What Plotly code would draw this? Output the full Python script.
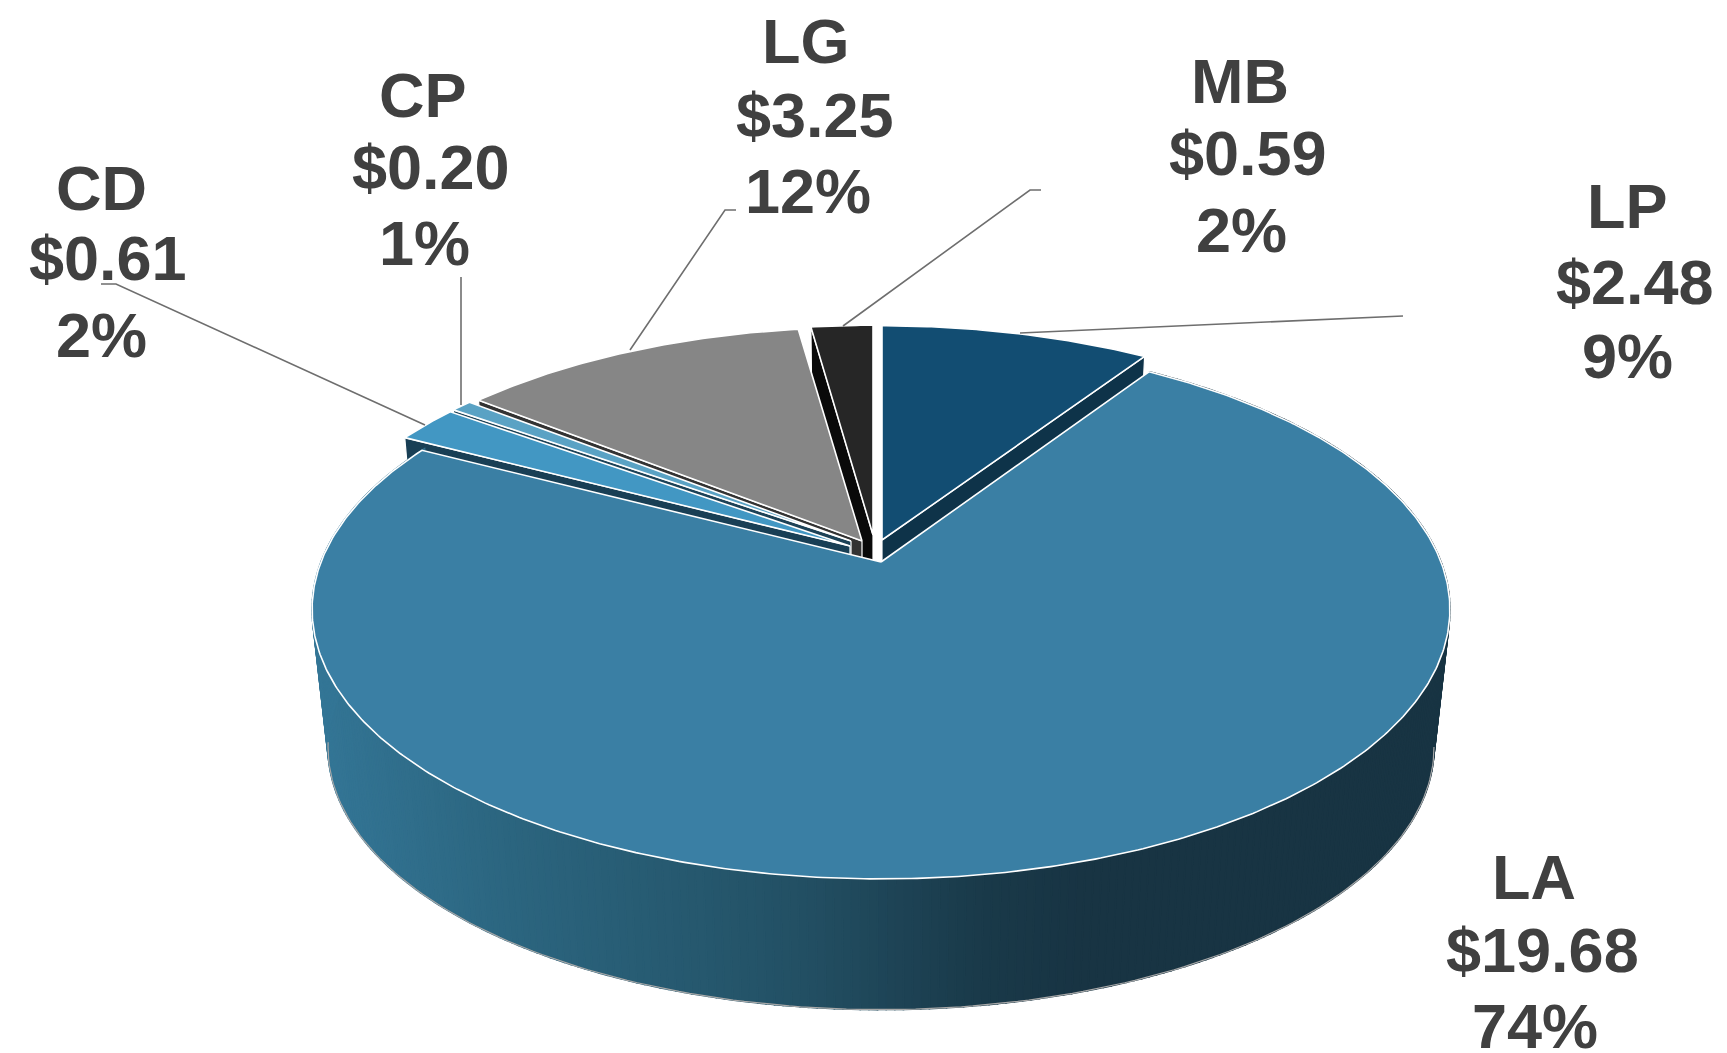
import numpy as np
import plotly.graph_objects as go

# ---- data ----
labels = ["LP", "LA", "CD", "CP", "LG", "MB"]
values = [2.48, 19.68, 0.61, 0.20, 3.25, 0.59]
percents = ["9%", "74%", "2%", "1%", "12%", "2%"]

# ---- styles ----
top_colors = ["#124d72", "#3a7fa4", "#4297c3", "#5aa2c4", "#868686", "#262626"]
side_colors = ["#0e3349", "#183444", "#193f55", "#1d4257", "#333333", "#0a0a0a"]
# per-slice apex position on the page and radius factors (explosion of the pie)
apex_x = [882, 881, 850, 851, 862, 873]
apex_y = [540, 562, 546, 541, 541, 535]
radius_x = [0.98, 1.0, 0.97, 0.965, 0.97, 0.945]
radius_y = [0.965, 1.0, 0.97, 0.948, 0.962, 0.945]

A, D, K = 560.0, 261.1, 0.1762   # perspective ellipse parameters
DEPTH, Q = 139.5, 0.972          # extrusion depth and far-plane scale
TEXT = "#404040"

label_x = {"LP": (1627, 1635, 1627), "LA": (1534, 1542, 1535), "CD": (101, 108, 101),
           "CP": (423, 431, 424), "LG": (806, 815, 808), "MB": (1240, 1248, 1241)}
label_y = {"LP": (205.5, 282, 356), "LA": (876.5, 950, 1026), "CD": (187.5, 258, 335),
           "CP": (95, 167, 243), "LG": (41, 114.5, 191), "MB": (81, 153, 229.5)}
leaders = {"LP": [(1403, 316), (1020, 333)],
           "CD": [(101, 284), (116, 284), (425, 425)],
           "CP": [(461, 277), (461, 405)],
           "LG": [(736, 210), (725, 210), (630, 350)],
           "MB": [(1041, 190), (1030, 190), (843, 326)]}

# ---- geometry derived from the values ----
total = sum(values)
cum = np.cumsum([0] + values) / total * 360.0


def rim(i, deg):
    th = np.radians(deg)
    s, t = np.sin(th), -np.cos(th)
    w = 1 - K * t
    return apex_x[i] + radius_x[i] * A * s / w, apex_y[i] + radius_y[i] * D * t / w


def lower(i, x, y):
    return apex_x[i] + Q * (x - apex_x[i]), apex_y[i] + DEPTH + Q * (y - apex_y[i])


def arc(i):
    deg = np.linspace(cum[i], cum[i + 1], max(3, int((cum[i + 1] - cum[i]) * 2) + 1))
    return rim(i, deg)


fig = go.Figure()


def poly(xs, ys, fill, line=None, width=0.0):
    fig.add_trace(go.Scatter(x=list(xs), y=list(ys), mode="lines", fill="toself", fillcolor=fill,
                             line=dict(color=line or fill, width=width if line else 1.6),
                             hoverinfo="skip", showlegend=False))


def cut_face(i, deg):
    x, y = rim(i, deg)
    bx, by = lower(i, x, y)
    ax, ay = apex_x[i], apex_y[i]
    cx, cy = lower(i, ax, ay)
    poly([ax, x, bx, cx, ax], [ay, y, by, cy, ay], side_colors[i], "#ffffff", 1.2)


def top(i):
    x, y = arc(i)
    poly(np.r_[apex_x[i], x, apex_x[i]], np.r_[apex_y[i], y, apex_y[i]], top_colors[i], "#ffffff", 1.6)


# back slices, from the back of the pie towards the LA slice
cut_face(5, cum[5]); top(5)
cut_face(4, cum[4]); top(4)
cut_face(3, cum[3]); top(3)
cut_face(2, cum[2]); top(2)
cut_face(0, cum[1]); top(0)

# outer wall of LA with a horizontal gradient
stops_x = [313, 500, 700, 800, 980, 1090, 1450]
stops_c = np.array([[52, 118, 150], [44, 102, 128], [38, 88, 110], [35, 80, 100],
                    [26, 58, 74], [24, 52, 67], [24, 52, 67]], dtype=float)
edges = np.arange(cum[1], cum[2] + 0.5, 0.75)
for a, b in zip(edges[:-1], edges[1:]):
    x0, y0 = rim(1, a)
    x1, y1 = rim(1, b)
    bx0, by0 = lower(1, x0, y0)
    bx1, by1 = lower(1, x1, y1)
    xm = (x0 + x1) / 2
    col = [np.interp(xm, stops_x, stops_c[:, k]) for k in range(3)]
    c = "rgb(%d,%d,%d)" % tuple(col)
    poly([x0, x1, bx1, bx0, x0], [y0, y1, by1, by0, y0], c)

deg = np.arange(100, 262, 1.0)
rx, ry = rim(1, deg)
bx, by = lower(1, rx, ry)
fig.add_trace(go.Scatter(x=bx, y=by, mode="lines", line=dict(color="#a8a8a8", width=1.2),
                         hoverinfo="skip", showlegend=False))
top(1)

# leader lines
for key, pts in leaders.items():
    fig.add_trace(go.Scatter(x=[p[0] for p in pts], y=[p[1] for p in pts], mode="lines",
                             line=dict(color="#6e6e6e", width=1.6), hoverinfo="skip", showlegend=False))

# labels
for name, val, pct in zip(labels, values, percents):
    for text, x, y in zip((name, f"${val:.2f}", pct), label_x[name], label_y[name]):
        fig.add_annotation(x=x, y=y, text=f"<b>{text}</b>", showarrow=False, xanchor="center", yanchor="middle",
                           font=dict(family="Liberation Sans", size=63, color=TEXT))

fig.update_layout(width=1727, height=1053, margin=dict(l=0, r=0, t=0, b=0), autosize=False,
                  paper_bgcolor="white", plot_bgcolor="white", showlegend=False,
                  xaxis=dict(range=[0, 1727], visible=False, fixedrange=True),
                  yaxis=dict(range=[1053, 0], visible=False, fixedrange=True))

fig.write_html("out.html", post_script="document.body.style.margin='0';document.body.style.overflow='hidden';",
               config={"displayModeBar": False})
